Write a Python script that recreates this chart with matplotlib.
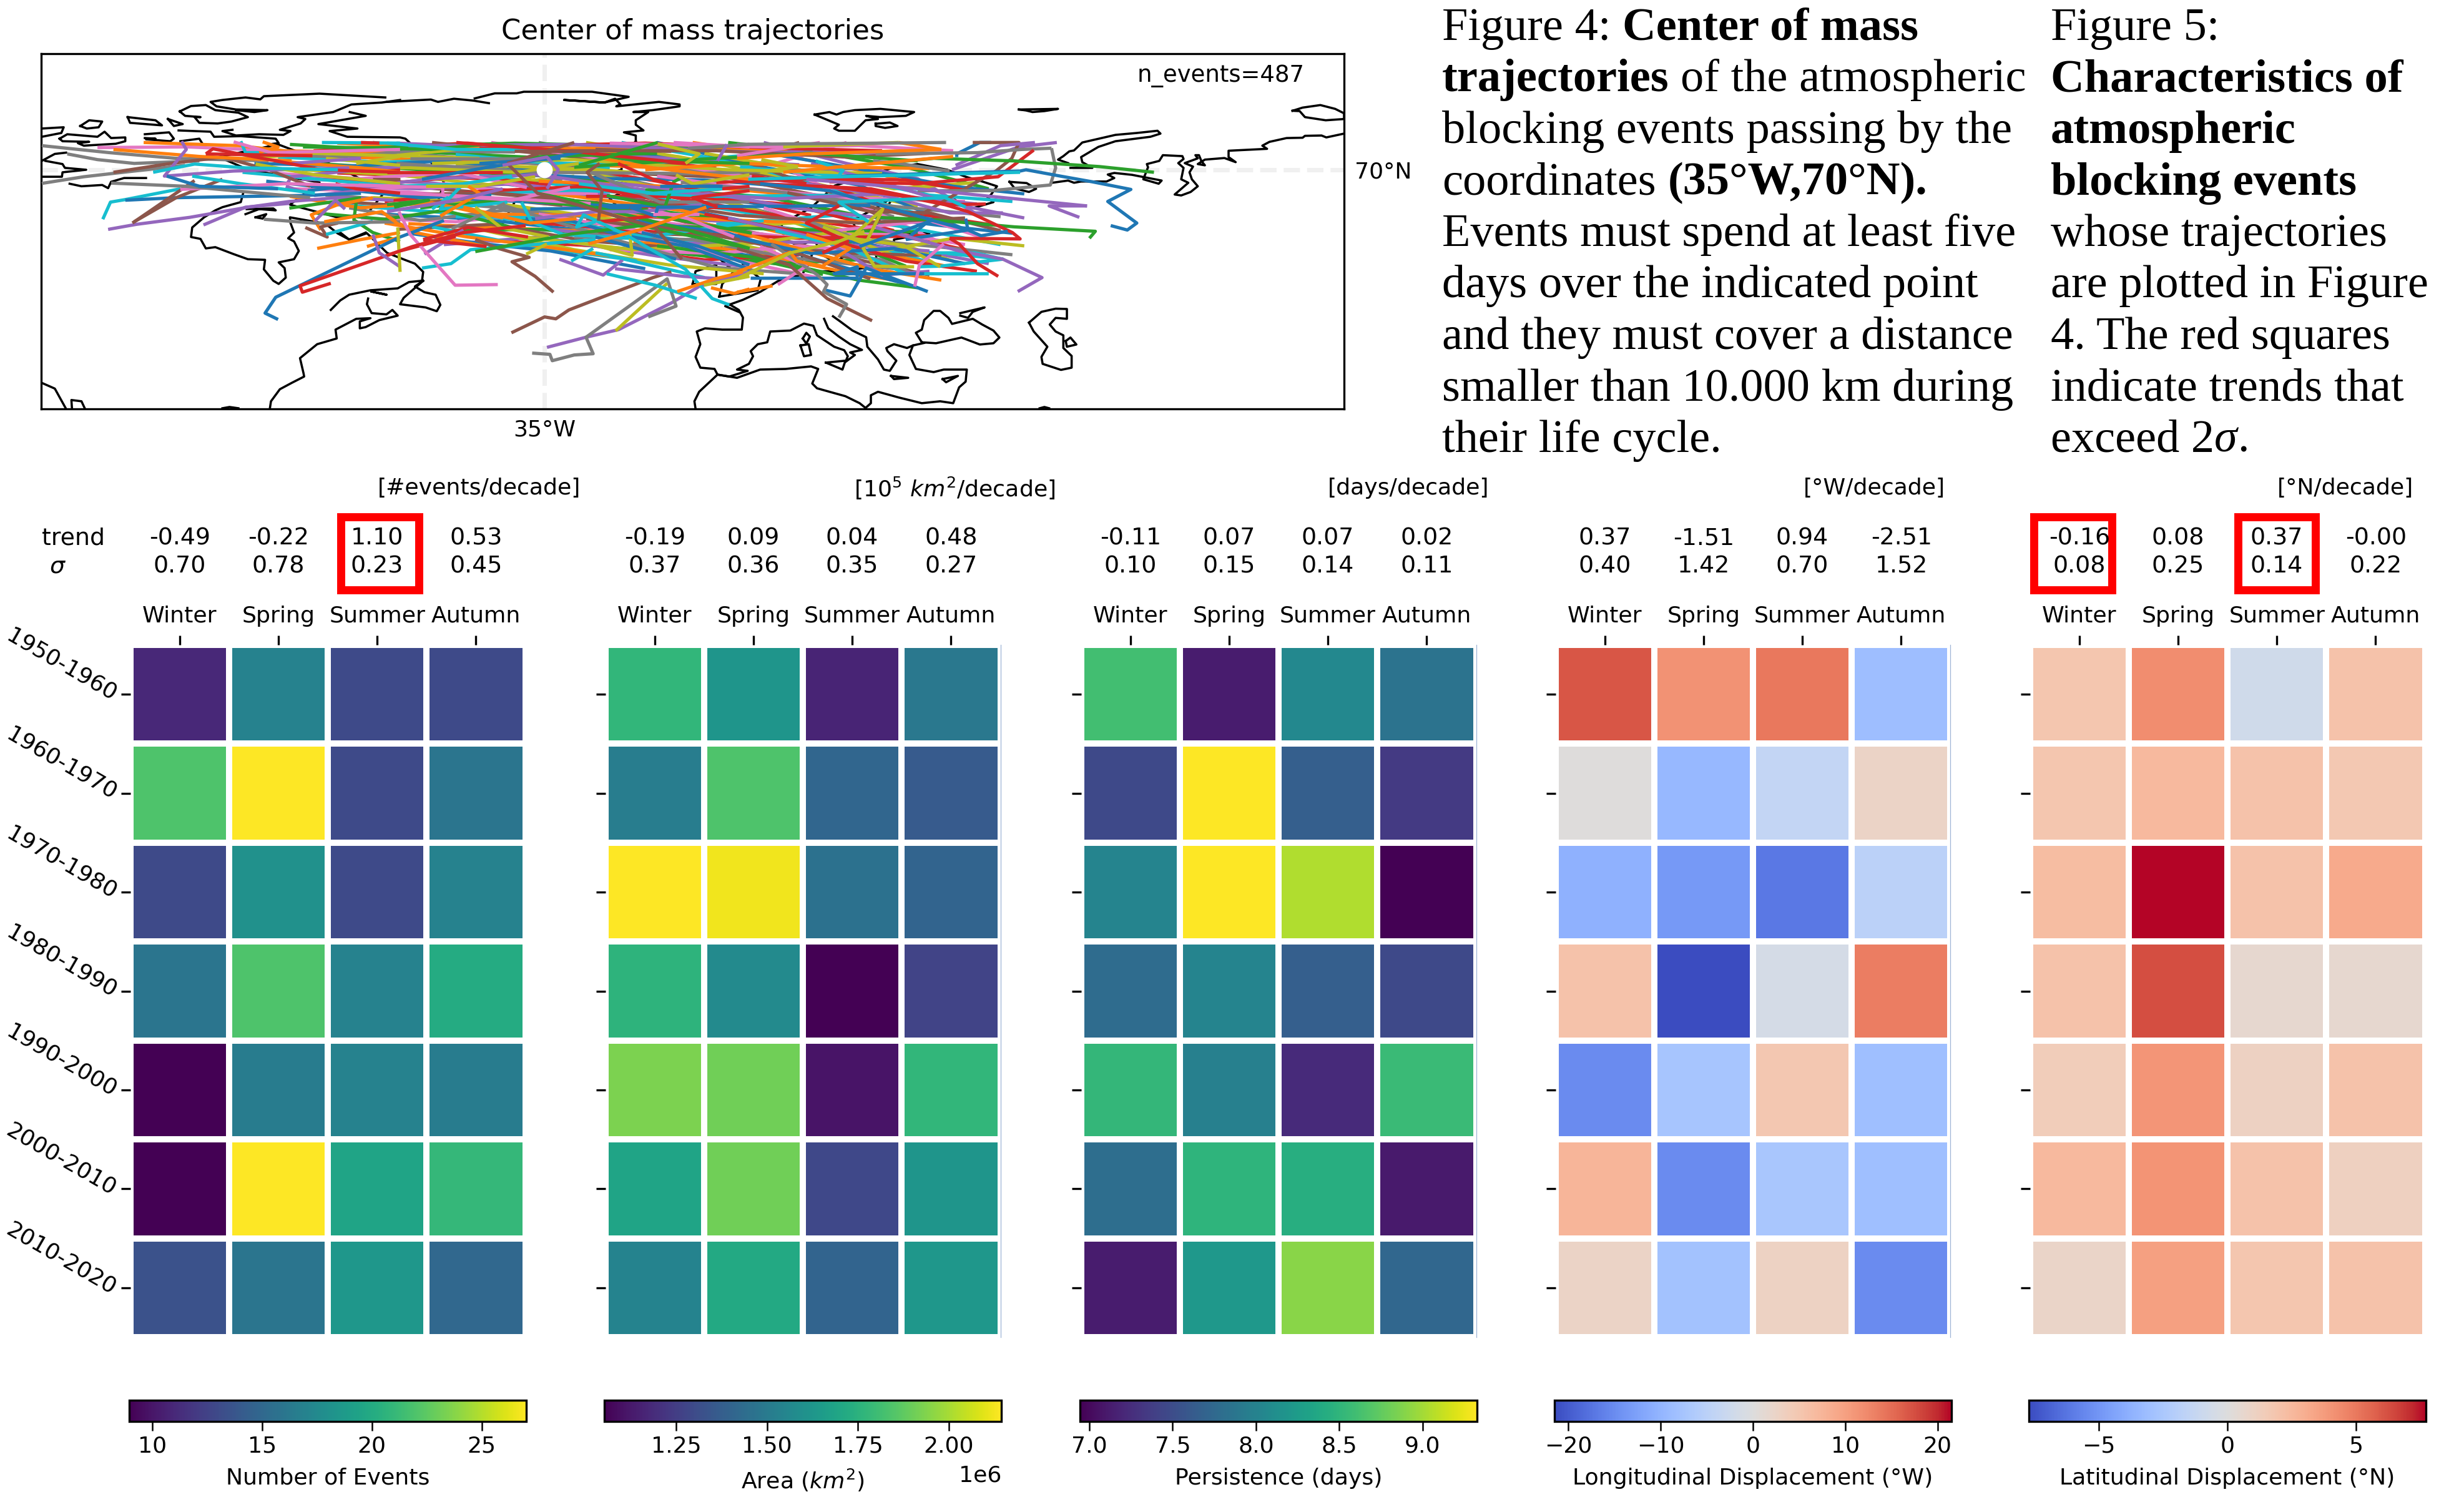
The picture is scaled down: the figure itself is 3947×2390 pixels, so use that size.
import numpy as np
import matplotlib
matplotlib.use('Agg')
import matplotlib.pyplot as plt
from matplotlib.cm import ScalarMappable
from matplotlib.colors import Normalize
from matplotlib.patches import Rectangle
from matplotlib.transforms import ScaledTranslation

W, H = 3947, 2390

decades = ['1950-1960', '1960-1970', '1970-1980', '1980-1990', '1990-2000', '2000-2010', '2010-2020']
seasons = ['Winter', 'Spring', 'Summer', 'Autumn']

events = [[11, 17, 13, 13], [22, 27, 13, 16], [13, 18, 13, 17], [16, 22, 17, 20],
          [9, 16.5, 17, 16.5], [9, 27, 19.5, 21], [13.5, 16, 18.5, 15]]
area = [[1.77, 1.62, 1.16, 1.49], [1.51, 1.84, 1.41, 1.36], [2.145, 2.12, 1.46, 1.40], [1.76, 1.57, 1.052, 1.27],
        [1.93, 1.91, 1.11, 1.77], [1.69, 1.91, 1.29, 1.62], [1.54, 1.71, 1.40, 1.63]]
persistence = [[8.61, 7.13, 8.06, 7.85], [7.47, 9.327, 7.66, 7.35], [8.02, 9.327, 9.04, 6.944], [7.78, 8.02, 7.66, 7.47],
               [8.52, 7.97, 7.23, 8.56], [7.80, 8.49, 8.44, 7.11], [7.13, 8.21, 8.90, 7.73]]
lon_disp = [[16.8, 11.5, 14, -8.6], [0.3, -9.5, -4, 2.6], [-10.5, -13.5, -17, -5], [5.6, -21.5, -1.5, 13.5],
            [-15, -7.5, 5, -8.5], [7.5, -15, -7.3, -8.5], [2.6, -8, 3, -15]]
lat_disp = [[1.85, 4.3, -0.77, 2.0], [1.85, 2.5, 2, 1.7], [2.3, 7.73, 2, 3.2], [2, 6.3, 0.6, 0.6],
            [1.4, 4, 1.1, 2], [2.5, 4.1, 2, 1.2], [0.9, 3.6, 1.85, 2]]

trends = [[-0.49, -0.22, 1.10, 0.53], [-0.19, 0.09, 0.04, 0.48], [-0.11, 0.07, 0.07, 0.02],
          [0.37, -1.51, 0.94, -2.51], [-0.16, 0.08, 0.37, -0.00]]
sigmas = [[0.70, 0.78, 0.23, 0.45], [0.37, 0.36, 0.35, 0.27], [0.10, 0.15, 0.14, 0.11],
          [0.40, 1.42, 0.70, 1.52], [0.08, 0.25, 0.14, 0.22]]
units = ['[#events/decade]', '[$10^5$ $km^2$/decade]', '[days/decade]', '[°W/decade]', '[°N/decade]']
cbar_labels = ['Number of Events', 'Area ($km^2$)', 'Persistence (days)',
               'Longitudinal Displacement (°W)', 'Latitudinal Displacement (°N)']

coast = [
    [(-61.9,81.4),(-73,82),(-82.4,81.6),(-83,81.1),(-85.5,81.4),(-89.4,81),(-91.4,80.7),(-90.4,80),(-87.1,79.5),(-81.8,79.4),(-84,79.1),(-87.1,79.4)],
    [(-59.4,81),(-62.5,80.6),(-67.6,80.3),(-70.7,79.1),(-76.7,78.3),(-75.4,78),(-76.2,77.3),(-79.7,76.3),(-77.9,76.1),(-79.1,75.5),(-83.2,75.6),(-87.1,75.4),(-89.4,76.1),(-87.7,76.3)],
    [(-67.9,79.1),(-65.2,78.5),(-73.2,77.2),(-66.6,76.5),(-71.3,76.1),(-68.3,75.2),(-59.4,75.1),(-58.5,74.9),(-54,71),(-52,68),(-53,65),(-48,61),(-43,60),(-40,65),(-30,68),(-22,70),(-22,72),(-19.6,74.5)],
    [(-96.6,79.2),(-94.7,80.05),(-92.2,80.2),(-90.6,79.4),(-86.7,79),(-85.1,78.3),(-87.9,77.6),(-90.2,77.3),(-93.3,77.4),(-94.1,78.3),(-93.1,78.3),(-95.7,78.5),(-96.6,79.2)],
    [(-113.4,76.9),(-111.9,77.8),(-109.7,77.6),(-110.3,76.7),(-112.3,76.5),(-113.4,76.9)],
    [(-105.4,78.3),(-100.7,77.8),(-99.6,77),(-105,77.4),(-105.4,78.3)],
    [(-98.6,78),(-96.1,77.2),(-97.6,76.9),(-98.6,78)],
    [(-96.8,76.2),(-91.4,76),(-90.8,75.2),(-86.3,75.3),(-80.4,74.9),(-79.9,74.2),(-81.6,74)],
    [(-119.9,76.5),(-116.2,76.7),(-116.6,75.8),(-119.9,75.2)],
    [(-116.9,74.9),(-115.6,75.6),(-110.5,75.2),(-109.3,76),(-108.2,75),(-105.8,75.1),(-105.8,74.5),(-107.4,74.1),(-112.8,73.8),(-113.8,74.2),(-111.9,74.4),(-116.4,74.5),(-116.9,74.9)],
    [(-102.5,75.6),(-98.4,75.9),(-97.6,74.9),(-98.2,74.5),(-102.3,74.8),(-100.7,74.9),(-102.5,75)],
    [(-96.5,74.5),(-93.3,74.9),(-92.7,74)],
    [(-119.9,71.4),(-117.7,72.5),(-115.8,72.7)],
    [(-119.3,71.4),(-116.4,70.9),(-116,70.3),(-112.4,70),(-116.4,69.6),(-116.5,68.9),(-119.9,68.9)],
    [(-115.2,67.8),(-113.2,67.4),(-109.7,67.6),(-108.7,67.1),(-108.2,68.1),(-106,68.7),(-102.3,68.7)],
    [(-85.9,66.3),(-86.3,64.9),(-89.4,64.1),(-90.6,63.6),(-92.5,62.5),(-94.5,60.9),(-94.7,59.4),(-93.1,59.1),(-92.2,57.6),(-90.6,57.8),(-87.5,56.7),(-85.1,55.9),(-82.2,55.8),(-82.4,54.3),(-80.8,52.5),(-79.9,52),(-78.7,53),(-78.9,54.5),(-79.9,55.4),(-77.3,55.9),(-76.5,57.2),(-77.3,58.7),(-78.3,59.2),(-77.3,60.1),(-77.9,61.6),(-78,62.5),(-72,61.5),(-70,60),(-68,59),(-65,60),(-61.6,56.9),(-58.6,55.8),(-56.9,55.2),(-55.5,53.9),(-55.7,52.5),(-57.9,52.3),(-59.8,51.3),(-64.4,51),(-68,50.3),(-69.5,49.4),(-71.1,47.9)],
    [(-85.3,63.8),(-80.8,63.9),(-80.4,63.6),(-83.2,63.8),(-85.5,63)],
    [(-83.8,62.5),(-82,63),(-82.6,62.3),(-83.8,62.5)],
    [(-64.8,49.7),(-65,48.8),(-64.2,47.4),(-61.7,47.2),(-60.7,47.9),(-59.8,47),(-62.9,46.3),(-65.2,45.2),(-66.2,45),(-66.2,46.1),(-64.4,46.6),(-66.8,46.5),(-70.3,44.8),(-70.1,43.4),(-73.4,42.5),(-76.3,40.3),(-75.7,37.9),(-75.6,37.4),(-77.7,36.4),(-79.7,35.4),(-81.2,33.5),(-81.4,32.3)],
    [(-64.2,50.8),(-61.7,50.3),(-64.2,50.8)],
    [(-119.9,36.4),(-117.7,35.5),(-115.8,32.3)],
    [(-114.8,32.3),(-114.9,33.7),(-113.2,33.5),(-112.6,32.3)],
    [(-89.4,32.4),(-88.2,32.6),(-86.7,32.4)],
    [(-61.6,80.7),(-54.2,81.07),(-53,80.7),(-50.3,81.2),(-47,80.9),(-44.4,80.5)],
    [(-46.8,81.25),(-43.4,82.05),(-39.7,82.05),(-38.5,82.3),(-27,82.3),(-20.8,81.5),(-24.9,80.6),(-31.7,81),(-24.9,80.6),(-23.1,81.2),(-22.2,80.3),(-22.9,80),(-15.7,80.7),(-12.2,80.3),(-12.2,80),(-16.7,79.4),(-20,79.1),(-17.5,79.1),(-19.6,77.8),(-19.6,77.1),(-18.3,76.2),(-21.6,75.9),(-19.6,75.4),(-19.6,74.5)],
    [(-55.5,52.5),(-56.9,51.6),(-55.3,50.7),(-53.4,50.3),(-52.6,48.7),(-53.2,47.7),(-55.1,48.3),(-59.4,48.8),(-58.8,49.8),(-55.5,52.5)],
    [(-3.8,48.8),(-2.2,47.9),(-1.5,46.7),(-1.7,44.8),(-5,44.8),(-7.9,45),(-9.3,44.5),(-8.7,42.5),(-9.5,40.5),(-8.7,38.8),(-6.3,38.6),(-5.8,37.7),(-3.8,37.4),(-0.7,38.3),(-2.5,38.5),(-0.5,39.4),(0.2,40.6),(-0.2,41.4),(1,42.5),(2.6,42.8),(3.1,44.5),(6.5,44.65),(8.8,45.75),(10.4,45.4),(11,43.9),(13.9,42.1),(15.6,41.55),(16.2,40.6),(15.8,39.7),(17.4,40.8),(16.6,41.2),(18.6,41.6),(16.6,42.5),(14.7,43.7),(12.9,45),(12.2,46.5)],
    [(-5.8,37.7),(-8.9,35),(-9.7,33.5),(-9.5,32.3)],
    [(-5.8,37.7),(-2.5,37.2),(1.4,38.5),(5.7,38.6),(10,39),(11.2,38.6),(10.2,36.3),(11,35.55),(15.8,34.3),(18.2,33.2),(19.2,32.45),(20.1,33.2),(20.1,34.45),(21.3,35),(24.8,34.1),(28.7,33.2),(31.8,33.5),(34,33.2),(35,35.7),(36.1,36.6),(36.3,38.5),(32.4,38.5),(30.7,38.1),(27.7,38.6),(26.6,40.8),(27.2,42.3),(29.1,42.7)],
    [(12.5,39.6),(15.8,39.9),(15.3,38.5),(12.5,39.6)],
    [(8.6,43.4),(9.2,44.3),(9.8,43.7),(9.2,42.6),(8.6,43.4)],
    [(8.2,42.3),(9.6,42.5),(10,40.8),(8.8,40.6),(8.2,42.3)],
    [(13.7,46.9),(14.9,46.1),(17,44.65),(19.3,43.6),(19.5,42.1),(21.3,40.1),(22.3,38.5),(23.3,38.3),(24.4,39.9),(22.9,41.4),(22.7,41.9),(24,42.5),(26.2,41.9),(27.2,42.3)],
    [(28.7,42.8),(31.1,42.65),(35.4,43.55),(38.5,42.45),(40.8,42.65),(41.8,43.55),(40.8,44.65),(38.9,45.6),(37.3,46.5),(33.8,45.7),(33.2,46.65),(31.8,47.75),(30.7,47.75),(29.1,46.3),(28.7,44.8),(27.7,44.3),(28.7,42.8)],
    [(35.2,47.4),(39.3,48.3),(37.3,47.6),(36.5,46.65),(35.2,47)],
    [(46.8,45.9),(48.9,47.6),(51.3,48.1),(53.2,48.05),(53.2,46.5),(51.3,46.65),(50.3,45.6),(51.3,44.5),(52.6,43.9),(52.6,41.9),(54,40.65),(54,38.8),(52.2,38.45),(49.1,39.4),(48.9,40.5),(49.9,42.1),(47.6,44.5),(46.8,45.9)],
    [(53,43),(53.8,43.55),(54.8,42.45),(53.2,42.1),(53,43)],
    [(23.5,37.5),(26.4,37.2),(24,37),(23.5,37.5)],
    [(32.2,37),(34.8,37.5),(32.8,36.5),(32.2,37)],
    [(48.6,32.4),(49.4,32.6),(50.2,32.4)],
    [(10.6,78.7),(13.1,79.1),(14.3,78.7),(15.4,79.1),(17.4,79.4),(21.7,79.6),(27.4,79.1),(26,78.5),(21.7,78.3),(19.3,78.5),(21.3,78),(19.2,77.8),(17.4,76.15),(14.7,76.15),(13.9,76.5),(14.7,77.1),(10.6,78.7)],
    [(20.9,77.25),(23.3,77.45),(24.6,76.9),(22.5,76.6),(20.9,76.9),(20.9,77.25)],
    [(45.1,79.5),(51.7,79.6),(49.4,79.25),(47.4,79.1),(46.3,79.35),(45.1,79.5)],
    [(53.4,71.05),(51.7,71.6),(52.6,72.15),(53.6,72.9),(54.4,73.05),(55.8,74.3),(61.4,75.5),(65,75.8),(68.5,76.15),(69,75.7),(67.3,75.2),(61.4,74.5),(58.5,73.6),(55.6,72),(55.8,71.2),(57.5,70.3),(53.8,70.3)],
    [(43.5,68.1),(46.4,67.9),(48,67),(46.8,66.5),(44.4,67.05),(43.5,68.1)],
    [(50.7,67.95),(53.4,68.3),(54.4,67.95),(55.6,68.15),(57.5,68.15),(59.9,68.15),(61.2,68.7),(60.1,69.25),(61.2,69.5),(64.2,69.2),(69.2,68.3),(68.7,67.8),(66.1,68.5),(66.9,70.4),(66.7,70.9),(68.8,71.4),(69.4,72.3),(72.7,72.15),(72.9,71.7),(72,71.05),(72.9,70.3),(72.5,68.5),(73.7,67.95),(71.4,66.1),(72.5,65.95),(74.1,66.5),(75.3,67.4),(74.3,68.5),(73.9,69.6),(74.5,70.5),(73.1,71.05),(75.3,71.8),(74.9,72.3),(75.5,72.3),(75.9,71.4),(76.5,70.7),(75.3,70.9),(76.5,71.6),(79.8,71.85),(81.7,71.2),(80.5,72),(80.5,73),(87,73.3),(86.2,73.8),(87.4,74.4),(90.3,75),(93,75.05),(93.4,75.35),(96.2,75.4),(97,75.1),(100,75.7)],
    [(91.3,79.3),(93,79.8),(96,80.2),(98.5,79.6),(100,78.9),(100,78),(96.9,77.8),(93.4,78.3),(92.5,79.25),(91.3,79.3)],
    [(-2,47.5),(-4.5,48.5),(-1.5,49.5),(1.5,50.8),(4.5,52.5),(8.5,53.5),(9.5,55),(10.5,57.5),(8.5,57),(8.5,55),(10,54),(14,54),(19,54.5),(21,55),(21,57),(24,57.5),(24,59),(30,60),(23,60),(21,61),(22,63),(24,65.8),(21,64),(17,62),(18,59.5),(16,56.5),(14,55.5),(12,56.5),(10.5,59),(8,58),(5.5,59),(5,61.5),(10,64),(14,67.5),(23.8,70.3),(28,70.9),(33,70),(36.1,68.9),(38.9,68.15),(41.4,67.4),(40.4,66.1),(39.8,65.6),(40.8,64.9),(37.3,63.95),(36.1,64.1),(33.8,65.6)],
    [(-5.5,50),(1,51),(1.5,52.8),(-1.5,55),(-2,57.5),(-5,58.5),(-5.5,56),(-3,54),(-5,52),(-5.5,50)],
    [(-10,52),(-6,52),(-6,55),(-9.5,54),(-10,52)],
    [(-24,65.5),(-22,66.4),(-15,66.4),(-13.5,65),(-18,63.5),(-22.5,64),(-24,65.5)],
    [(-80,74),(-70,70.5),(-62,66.5),(-65,63),(-70,62.5),(-78,64.5),(-73,68),(-85,70),(-90,72),(-80,74)],
    [(-69.5,60.1),(-68,59),(-65.2,60.1)],
]

# tracks inside the dense band, colours run through the default cycle as the original plot does
band_tracks = [
    [(-72,73.5),(-50,72.8),(-30,73),(-12,72)], [(-68,72),(-44,71.2),(-20,70.5),(2,69.5)],
    [(-74,71),(-52,69.8),(-30,68.8),(-6,66)], [(-70,69.5),(-46,68.6),(-24,67.4),(3,63)],
    [(-76,68.5),(-55,68),(-38,66.5),(-18,65.5)], [(-66,68),(-48,66.6),(-26,64.8),(-5,60.5)],
    [(-78,67),(-58,66.5),(-36,64.8),(-14,62.5)], [(-72,66),(-50,64.6),(-34,63.4),(-10,59.8)],
    [(-64,65.6),(-44,64.8),(-22,62),(4,57)], [(-70,64.5),(-54,63.4),(-32,61.4),(-8,58.5)],
    [(-62,63),(-46,62.2),(-28,60.4),(10,55)], [(-58,61.5),(-42,60.8),(-22,60.2),(-4,57)],
    [(-52,60.4),(-36,60.6),(-14,59),(12,53.5)], [(-74,73),(-48,74.2),(-28,72.6),(-6,70.2)],
    [(-60,74.2),(-40,73.4),(-18,72),(8,70.8)], [(-54,74.3),(-34,72.4),(-14,70.6),(14,68.2)],
    [(-44,74.3),(-26,71.8),(-6,69.6),(20,66.4)], [(-36,74.3),(-20,71.4),(2,67.8),(24,62.6)],
    [(-28,74.3),(-12,72),(6,68.8),(28,64.2)], [(-22,74.3),(-4,71.4),(12,67.4),(32,62)],
    [(-16,74.3),(2,70.4),(18,67.6),(36,60.6)], [(-10,74.3),(8,71.8),(22,69.2),(32,66.4)],
    [(-4,74.3),(12,72.6),(26,70.4),(40,67)], [(-64,74.3),(-40,71.8),(-16,68.2),(10,62.8)],
    [(2,74.3),(16,71),(28,68.6),(38,63)], [(8,74.3),(-2,71.6),(14,66.2),(30,58.8)],
    [(16,74.3),(4,71),(18,64.6),(34,57.6)], [(-56,72.4),(-32,70.6),(-8,65.8),(18,59.6)],
    [(-50,70.8),(-28,69.6),(-2,64.4),(24,56.6)], [(-46,69.2),(-22,66.4),(6,62.2),(30,55.4)],
    [(-42,67.8),(-18,65),(8,60.2),(28,56.8)], [(-38,66.8),(-12,63.6),(14,58.2),(34,54.6)],
    [(-34,65.6),(-8,62.6),(12,60),(26,54.8)], [(-30,64.4),(-4,64),(20,60.6),(38,57)],
    [(-26,63),(0,61.6),(22,58.4),(40,55.2)], [(-22,63.8),(2,59.8),(16,56.2),(30,53.4)],
    [(-18,62),(6,59.4),(24,60),(36,58.2)], [(-14,61),(8,57.6),(22,55.8),(28,53.2)],
    [(-10,60.6),(10,61.8),(26,58),(34,55.6)], [(-6,61.4),(14,62.8),(28,60.6),(42,58.2)],
    [(-2,65),(16,63),(32,61.2),(44,60)], [(-20,58.6),(-2,57.4),(16,53.8),(24,52.6)],
    [(-32,58.4),(-14,57),(4,55.2),(18,55.8)], [(-44,58.8),(-26,58),(-8,55.8),(8,56.6)],
    [(-52,58.2),(-36,59.4),(-16,56.4),(0,54.6)], [(-60,60.6),(-44,61.4),(-28,58.8),(-14,57.8)],
    [(-66,62.4),(-50,61.8),(-38,63),(-24,60.2)], [(-68,64),(-56,62),(-42,63.6),(-30,62.6)],
    [(-76,70),(-60,69.2),(-44,67.6),(-30,69)], [(-80,72),(-62,71.2),(-42,72),(-24,70.2)],
    [(-84,71),(-68,70.6),(-52,71.4),(-36,70)], [(-82,73),(-64,72.8),(-42,73.8),(-22,72.8)],
    [(-78,74),(-60,73),(-38,72),(-16,72.6)], [(-76,69),(-62,67.8),(-48,69),(-34,67.6)],
    [(-72,67.4),(-56,67),(-40,67.8),(-24,66)], [(-70,65),(-60,64.4),(-46,65.6),(-32,64.4)],
    [(-65,66.8),(-52,67.8),(-40,66.4),(-26,66.2)], [(-72,69.8),(-58,70.6),(-44,70.4),(-32,68.4)],
    [(-58,69),(-42,70.6),(-26,70),(-12,69)], [(-50,72.4),(-34,71),(-18,71),(-2,72.2)],
    [(-40,69.4),(-24,68.6),(-8,68.4),(8,67.2)], [(-36,68.2),(-20,67.6),(-4,67),(12,65.6)],
    [(-32,67),(-16,66.8),(2,65.8),(18,62.8)], [(-28,65.8),(-12,65.8),(6,64.6),(24,60.4)],
    [(-24,68),(-8,66.4),(10,63.6),(26,62)], [(-20,69.4),(-4,68.8),(14,65.4),(34,61.2)],
    [(-16,69),(0,67),(16,65.6),(36,65)], [(-12,68),(4,66.6),(20,64.6),(42,62.6)],
    [(-8,72.6),(8,70),(24,67),(38,68)], [(-2,70.4),(14,69.2),(30,66),(44,65)],
    [(4,72.4),(20,69.8),(34,67.4),(46,66.2)], [(-70,74.2),(-44,73),(-20,73.6),(6,73)],
    [(-66,73.4),(-40,74.2),(-14,73.6),(14,73.8)], [(-46,73.6),(-18,74.2),(4,73.4),(22,73)],
    [(-58,73.8),(-30,74),(0,72.8),(26,72.6)], [(-34,73),(-6,73),(16,72),(30,72.6)],
    [(-24,74.2),(2,73.6),(18,73.8),(34,73)], [(-60,71),(-36,69.6),(-10,69.4),(18,70.2)],
    [(-54,71),(-30,71.6),(-4,70),(22,69.4)], [(-52,66),(-30,66.8),(-6,65.8),(16,66)],
    [(-48,65.4),(-26,64.4),(0,64.2),(20,64.4)], [(-44,63),(-22,62.8),(4,61.8),(24,61.8)],
    [(-40,62),(-18,61.2),(6,60.6),(28,60.2)], [(-36,61.6),(-16,60.2),(8,59.2),(30,59.6)],
    [(-34,60.6),(-12,58.4),(10,58.6),(30,57.2)], [(-26,60.2),(-6,59.6),(12,57),(32,56.4)],
    [(-24,57.4),(-6,56.8),(8,58),(22,57)], [(-30,59.4),(-10,59),(6,56.2),(24,54.4)],
    [(-40,59.6),(-20,57.4),(0,58.4),(16,60.4)], [(-50,62.6),(-34,62.4),(-18,59.4),(2,62)],
    [(-20,62),(-4,60),(14,55),(26,52)], [(-12,62.5),(4,58.6),(20,54.4),(32,52.6)],
    [(-16,58),(2,56),(18,52.6),(28,51.4)], [(-8,63),(10,59.8),(26,55.6),(38,54)],
    [(-4,62.4),(12,59),(22,53.4),(30,54)], [(-28,62),(-10,60.4),(6,57.4),(20,52.8)],
    [(-36,63),(-20,60.6),(-2,55.6),(12,52.8)], [(-42,64.4),(-24,59.2),(-6,54.6),(8,53.6)],
    [(-46,60.6),(-30,57.4),(-14,55),(2,53.6)], [(-54,61),(-38,58),(-22,56),(-8,53)],
    [(-58,60),(-46,58.4),(-34,57.2),(-18,54.4)], [(-62,61.6),(-48,59.4),(-36,58),(-24,56.4)],
    [(-56,64),(-40,65.4),(-20,63.4),(0,60)], [(-62,65),(-46,66.6),(-28,67.4),(-10,64.2)],
    [(-68,67),(-54,68.6),(-36,69.2),(-18,66.8)], [(-74,67.8),(-60,66),(-44,66.4),(-30,65.2)],
    [(-80,69.4),(-66,68.6),(-50,69.6),(-38,67.2)], [(-84,72.6),(-70,72),(-56,73),(-40,72.8)],
    [(-88,71.6),(-74,72.6),(-60,72.2),(-46,71.8)], [(-86,69.6),(-72,68.4),(-60,67.4),(-48,67.8)],
    [(-82,68.2),(-70,67),(-56,65.6),(-44,66)], [(-78,65.8),(-66,64),(-54,64.8),(-42,62.4)],
    [(-74,63.2),(-62,62.2),(-52,63.6),(-40,60.8)], [(0,69),(14,67.2),(24,63.6),(40,61.4)],
    [(10,71),(22,68),(34,64.6),(46,62.4)], [(6,66.4),(20,63.4),(30,63.2),(42,60.4)],
    [(2,64),(14,60.4),(30,62),(40,59)], [(8,62.4),(18,59),(32,57.8),(44,56.6)],
    [(12,61),(22,57.2),(34,59.2),(46,58)], [(4,60.4),(16,57.8),(26,53.6),(40,53.6)],
    [(-2,59.2),(10,56.8),(24,57.6),(36,55.2)], [(-18,70),(-2,71),(16,70.4),(30,70.2)],
    [(-30,70.4),(-10,71.6),(10,72.6),(28,71.4)], [(-6,68),(10,68.6),(26,68.4),(36,66.8)],
    [(-14,66.6),(4,65.4),(22,66.2),(38,64.6)], [(-22,65.6),(-2,62.8),(18,61.6),(36,62.4)],
]

# (tab10 colour, points lon/lat) for tracks that can be told apart
tracks = [
    (6,[(-61.6,67.4),(-52.2,67.2),(-52.2,65.96),(-40.5,65.2),(-30.7,67.2)]),
    (6,[(-59.6,66.3),(-51.8,66),(-27.2,64.7)]),
    (9,[(-54,63.8),(-51.4,65.6),(-52.6,63.8),(-41.3,64.9)]),
    (9,[(-51.4,65.2),(-48.7,67.8),(-40.5,69)]),
    (8,[(-61.6,70.3),(-57.7,70.3),(-39.7,69.6),(-29.2,71)]),
    (8,[(-61.6,72.1),(-49.9,73.2)]),
    (8,[(-55,67.4),(-46,67.4),(-36.6,68.9)]),
    (2,[(-61.6,73.4),(-54.2,73.2),(-44,74.1),(-18.6,71.4),(-0.4,71)]),
    (9,[(-61.6,74.2),(-49.9,73.2),(-34.3,73.2)]),
    (3,[(-61.6,69.6),(-42.1,69.6)]),
    (3,[(-49.9,74.3),(-30.4,72.9),(-10.8,71)]),
    (0,[(-55.7,68.5),(-45.2,70.3),(-34.3,71.8),(-28.4,72.9)]),
    (7,[(-57.7,71.8),(-38.2,71.8)]),
    (7,[(-27.2,69.6),(-15.5,64.9),(-0.4,64.9)]),
    (7,[(-50.7,60.7),(-41.7,64.7)]),
    (0,[(-37.4,63.8),(-18.6,64.1)]),
    (0,[(-38.2,62.3),(-30.4,61.9),(-22.6,59.8),(-10.8,57.9),(-0.4,54.3)]),
    (9,[(-38.9,64.9),(-37.2,61.8),(-31.9,59.8),(-20.6,59.2)]),
    (2,[(-24.5,65.96),(-14.7,64.1),(-13.2,68.1),(-11.6,68.9)]),
    (2,[(-36.2,66.3),(-30.4,65.2),(-18.6,61.2),(-0.4,57.6)]),
    (2,[(-26.4,64.1),(-10.8,60.5),(-0.4,57.6)]),
    (1,[(-25.3,71.8),(-16.7,70.3),(-0.4,68.5)]),
    (1,[(-61.6,62.7),(-56.9,60.1),(-51.8,59.2),(-44.8,57.9)]),
    (1,[(-52.6,62.7),(-46,66.3),(-47.9,67.4)]),
    (1,[(-48.7,64.1),(-37.4,61.6),(-29.6,62.3)]),
    (3,[(-22.6,71),(-16.7,68.5),(-8.5,66.7),(-0.4,67.4)]),
    (3,[(-25.7,61.8),(-16.7,62.7),(-20.6,64.1)]),
    (3,[(-37.8,59.4),(-47.9,60.9),(-55.5,59)]),
    (6,[(-17.5,63.8),(-10.8,62.3),(-3,59.4)]),
    (4,[(-61.6,63.4),(-49.9,65.2),(-42.1,67)]),
    (4,[(-48.7,60.5),(-55.3,56.7)]),
    (4,[(-36.6,62.3),(-26.4,63.4),(-18.6,63.4),(-8.5,64.5)]),
    (5,[(-40.1,72.9),(-26.4,72.9)]),
    (5,[(-26.4,73.2),(-13.6,72.9)]),
    (8,[(-12.8,69.2),(-10,67.8),(-0.4,69.2)]),
    (0,[(-20.6,64.1),(-16.3,62.7),(-15.9,64.1),(-7.3,64.1)]),
    (0,[(-18.6,60.1),(-8.9,57.9),(-0.4,55)]),
    (0,[(-26.4,59.4),(-12.8,55.9)]),
    (9,[(-29.2,67.8),(-16.7,66.3),(-5,67)]),
    (0,[(-15.5,67.4),(-5,67.4)]),
    (6,[(-13.2,74.3),(-0.4,73.6)]),
    (6,[(-16.7,63),(-8.9,63)]),
    (7,[(-0.4,74),(-10.8,73.4)]),
    (0,[(-46,71),(-32.3,71.8)]),
    (2,[(-61.6,64.5),(-54.6,65.2),(-60.4,64.1)]),
    (8,[(-46.7,64.1),(-42.4,60.9),(-34.3,59.4)]),
    (8,[(-20.6,59.8),(-20.2,56.5),(-27.2,58.3)]),
    (3,[(-66,69.8),(-59.4,70)]),
    (2,[(-75.8,73.6),(-59.4,73.4)]),
    (9,[(-72.6,74.3),(-59.4,74.2)]),
    (3,[(-66,74.3),(-62.9,74.2)]),
    (4,[(-78.5,67.8),(-77.7,68.9),(-66,70),(-59.4,70.5)]),
    (4,[(-78.7,67.4),(-73.8,65.95),(-64.4,66.9)]),
    (8,[(-71.9,71.8),(-59.4,70.7)]),
    (8,[(-66.8,71),(-59.4,72.1)]),
    (0,[(-75,66.7),(-68.3,67.4)]),
    (3,[(-70.3,67.8),(-66.8,67),(-59.4,66.3)]),
    (1,[(-78,71.2),(-66,70.3),(-59.4,69.6)]),
    (5,[(-64,68.5),(-59.4,68.5)]),
    (6,[(-66.4,67.6),(-59.4,67.4)]),
    (4,[(-77.7,71),(-66,71.8)]),
    (2,[(-66.8,64.9),(-67.2,62.1),(-64,60.1),(-59.4,58.7)]),
    # tracks leaving the dense band
    (4,[(-108.7,60.6),(-103.9,61.4),(-94.9,62.5),(-85.1,64.1),(-78.1,65),(-69.9,65.6),(-60.5,65.2)]),
    (9,[(-109.6,62.2),(-108.3,64.9),(-105.8,65.3),(-96.5,67)]),
    (0,[(-105.8,65.2),(-97.2,65.6),(-75.8,65.95),(-66,66.3)]),
    (5,[(-104.6,61.6),(-94.1,68.3)]),
    (5,[(-104.3,61.8),(-97.2,65.6),(-89.4,68.5)]),
    (4,[(-92.6,61.3),(-85.5,64.1),(-78.1,64.7)]),
    (7,[(-119.9,73.8),(-108.5,72.7),(-97.2,71.8),(-81.6,71.4)]),
    (7,[(-115.6,72.5),(-110.5,71.6),(-104.3,71),(-93.3,71.4)]),
    (7,[(-119.9,67.85),(-112.8,68.9),(-104.3,69.8),(-95.7,70.7)]),
    (5,[(-107.8,69.6),(-98.8,70.9),(-89.4,72),(-81.6,70),(-74.6,67.4)]),
    (6,[(-110.5,73.5),(-95.3,73.6),(-77.7,72.9)]),
    (1,[(-102.7,74.3),(-86.7,73.8),(-74.2,72.5)]),
    (1,[(-107.8,73.2),(-93.3,72.1),(-77.7,71.4)]),
    (4,[(-96.3,74.5),(-95.5,73.2),(-99.2,69),(-87.5,69.8),(-68,70.3)]),
    (3,[(-92.2,72.5),(-91,73.3),(-72.6,70),(-59.4,69.6)]),
    (9,[(-86.3,74.5),(-85.5,72.7),(-81.6,72.7)]),
    (1,[(-82.6,74.4),(-80,73.6),(-83.2,72.7)]),
    (6,[(-87.5,74.4),(-81.2,72.7),(-59.4,73.2)]),
    (3,[(-74.2,72.2),(-92.2,72.5)]),
    (8,[(-83.8,70.9),(-73.8,69.2),(-59.4,67.8)]),
    (9,[(-101.1,69.6),(-94.1,70.9),(-85.5,70.3),(-69.9,70)]),
    (9,[(-94.5,69),(-86.3,67.8),(-73.8,66.3)]),
    (6,[(-96.5,66.9),(-78.9,67.8),(-59.4,67.4)]),
    (7,[(-108.2,67.9),(-95.7,67.4),(-74.6,65.6)]),
    (0,[(-98.8,69),(-93.3,67.4),(-80,67)]),
    (2,[(-78.1,63.95),(-66,65.6)]),
    (1,[(-72.8,60.5),(-74.4,62.9),(-69.9,64.5),(-64,65.6)]),
    (5,[(-75.4,60.9),(-71.7,59.4),(-72.8,61),(-69.9,61.6)]),
    (9,[(-71.9,59.8),(-64,61.9)]),
    (7,[(-82.4,62.2),(-73.8,61.6),(-59.4,61.8)]),
    (1,[(-73.4,57.6),(-66,59),(-59.4,60.1)]),
    (1,[(-72.2,61.8),(-62.5,63.4),(-59.4,61.2)]),
    (1,[(-65,57.9),(-59.4,59.4)]),
    (0,[(-80,46.4),(-82.2,47.4),(-80.4,49.9),(-59.4,59.4),(-52,62)]),
    (3,[(-71.1,52.1),(-75.9,50.7),(-76.3,51.7),(-59.4,57.2),(-50,59.5)]),
    (4,[(-64,59.8),(-62.9,56.9),(-59.4,54.7)]),
    (4,[(-73.8,61.9),(-70.3,65.2),(-68.7,63.8)]),
    (8,[(-59.8,60.9),(-59.4,53.9)]),
    (9,[(-55.7,54.5),(-50.8,55.2),(-47.5,57.4),(-26.4,59)]),
    (6,[(-42.9,51.9),(-50.1,51.8),(-57.7,59.8),(-59.6,63.4)]),
    (5,[(-33.5,50.7),(-36.6,53.2),(-40.5,55.5),(-37.6,56.2),(-42.8,57.6),(-46.7,59)]),
    (5,[(-40.6,44.3),(-35,46.8),(-33.1,46.5),(-30.9,47.9),(-16.7,53),(-13.6,53.9)]),
    (4,[(-34.6,42),(-28,43.6),(-22.5,44.8),(-13.6,49),(-8.9,51.6),(-0.4,53.9)]),
    (7,[(-37.1,41.1),(-34.1,40.9),(-33.7,39.9),(-30,40.8),(-26.8,41),(-28,43.6),(-14.3,52.8),(-12.8,48.5),(-17.5,46.8)]),
    (8,[(-23,44.6),(-14.3,52.1)]),
    (2,[(-46.7,57.1),(-30.3,59.9),(-18.6,61.2)]),
    (8,[(-38.1,56.7),(-34.6,58.3)]),
    (9,[(-30.5,55.6),(-26.8,57.6)]),
    (4,[(-32.5,55.9),(-25.1,53.4),(-21.8,55.8)]),
    (9,[(-26.4,56.9),(-19.4,55.6)]),
    (4,[(-23.1,54.4),(-11.6,53.2),(-5,52.8)]),
    (9,[(-9.3,49.7),(-16.3,51.8),(-24.5,53.6)]),
    (9,[(-3.8,48.7),(-6.7,49.7),(-11.2,54.3),(-21.4,59.8),(-28.4,62.9),(-29.6,61),(-26.4,61.8)]),
    (1,[(-12.6,50.8),(-6.2,52.8),(-1.5,53.9)]),
    (1,[(-6.9,51.4),(-3,50.5),(-0.4,51.2)]),
    (8,[(-8.1,51.8),(-0.4,53.2)]),
    (5,[(-41.3,71),(-36.2,66.3),(-16.3,60.9),(-11.8,55.9)]),
    (5,[(-30,74.3),(-41.3,71)]),
    (5,[(-25.7,71),(-27.8,69.6),(-25.3,66.7),(-25.9,61.95)]),
    (4,[(-42.1,70.7),(-34.6,72),(-32.7,70),(-34.6,67)]),
    (3,[(-55.5,58.96),(-44.8,57.9)]),
    (3,[(-61.6,56.5),(-57.3,57.9),(-48.7,60.1),(-38.2,61.2)]),
    (1,[(-7.7,64.1),(-18.3,60.7),(-27.6,58.3)]),
    (3,[(-5.8,64.1),(-10,65.6),(-0.4,66.7)]),
    (2,[(-29.2,70.7),(-15.9,74.3)]),
    (8,[(-15.9,74.1),(-8.9,72.5),(-11.2,71)]),
    (4,[(-4.2,74),(-5.8,71.4)]),
    (4,[(51.5,74.3),(45.1,73.6),(33.8,70)]),
    (0,[(40.4,74.3),(38.5,74.3),(34.6,72.5),(34.6,72)]),
    (5,[(37.3,74.3),(45.1,74.3),(43.9,71.8),(41.2,69.8),(35.4,66.7),(28.7,63)]),
    (4,[(47.8,74.3),(42,73.8),(34.4,70.7)]),
    (7,[(50.6,73.4),(45.5,73.2),(38.1,72.7),(20.9,72.5)]),
    (7,[(50.6,73.4),(51.3,70.3),(50.4,67.6),(40.4,66.7),(28,66.7)]),
    (3,[(47.6,73.1),(41.6,68.9),(28,67.8),(13.1,68.1)]),
    (2,[(25.2,71.3),(30.7,71.8),(44.3,71.4),(58.7,70.5),(67.9,69.6)]),
    (0,[(15,69),(45.3,69.8),(46.3,70),(52.1,69),(57.5,68.1),(64,66.9),(60.1,65),(65,61.6),(63.4,60.5),(60.6,61.2)]),
    (9,[(45.3,69.6),(15,68.9),(-0.6,68.5)]),
    (7,[(20.5,71.4),(24.8,71),(33.4,69.8)]),
    (4,[(56.6,64.3),(40.4,65.8),(28,67),(9.2,68.5)]),
    (4,[(56.6,64.3),(50.2,64.3),(55.3,62.5)]),
    (4,[(42.4,63.2),(33.4,63.2),(22.5,65.95),(9.2,67.8)]),
    (3,[(39.5,64.6),(33.4,64.5),(20.1,67),(1.4,67.8)]),
    (2,[(57,59.2),(58,60.3),(44.3,61),(30.7,62.1),(20.9,62.5)]),
    (3,[(33.4,59.2),(45.3,59.1),(44,60.1),(36.5,63.4),(32.6,64.5),(24.8,65.95),(13.1,67.4)]),
    (0,[(26,59),(30.1,62.1),(36.5,60.5),(36.1,62.3)]),
    (0,[(26,59),(36.5,60.5),(38.7,59.6),(43.2,60.3)]),
    (0,[(30.3,62.1),(13.1,66.7),(1.4,67.8)]),
    (9,[(42.4,55.9),(37.7,56.9),(29.9,56.9)]),
    (9,[(28,54.7),(31.8,54.8),(42.4,55.9),(33,56.8)]),
    (4,[(44.9,50.8),(49,53),(42.4,55.9),(35,57.2),(20.9,60.9)]),
    (3,[(41.6,53.2),(38.1,55.2),(35,58.3),(33.4,59.2)]),
    (8,[(31.8,54.7),(25.6,58.1),(16.6,59.2),(22.1,63.8),(18.8,57.6),(20.7,54.8),(27.4,54.7)]),
    (8,[(1.6,71.6),(7.6,70.5),(1.4,69.6)]),
    (0,[(29.7,50.8),(19.3,54.5),(16.6,50.1),(12.5,51)]),
    (0,[(29.1,53.6),(13.9,53.6),(17.8,54.7),(17.8,52.9),(8,52.9),(-0.2,52.9)]),
    (6,[(27.5,51.6),(28.3,55),(32.4,58.3)]),
    (6,[(4.4,51.9),(9.2,54.8),(1.4,57.9)]),
    (5,[(20.3,46.2),(12.7,49.7),(6.3,55),(-2.5,57.6)]),
    (7,[(14.7,46.7),(16,48.8),(12.1,50.8),(12.7,51.9),(11.1,53.4),(3.3,58.3)]),
    (1,[(-2.5,50.7),(3.5,51.7)]),
    (1,[(-2.5,53.9),(6.5,57),(7.6,55.6),(11.9,54.8),(16.6,57.6),(9.2,59.8)]),
    (3,[(14.7,64.3),(9.2,61.6),(16.2,58.7),(11.9,56.9)]),
    (8,[(-2.5,52.8),(6.5,56.9),(14.7,58.7),(19,60.3)]),
    (0,[(18.2,57.9),(30.7,62.1)]),
    (9,[(10.8,71.4),(15.4,69.9),(14.5,68.9)]),
    (6,[(11.5,74.3),(-2.5,72.2)]),
    (8,[(24.8,74.3),(5.3,73.6)]),
    (1,[(32,73.2),(24.8,74.3)]),
    (1,[(32,73.2),(9.2,72.5),(-2.5,71.8)]),
    (1,[(34,72.1),(20.9,71),(5.3,69.6)]),
    (7,[(32.8,74.3),(-2.5,74)]),
    (9,[(36.1,64.1),(32.6,65.6),(14.7,64.9),(19.7,61.8)]),
]

track_colors = ['C0', 'C1', 'C2', 'C3', 'C4', 'C5', 'C6', 'C7', 'C8', 'C9']


def fx(x):
    return x / W


def fy(y):
    return 1 - y / H


def add_px_axes(x0, y0, x1, y1):
    return fig.add_axes([fx(x0), fy(y1), (x1 - x0) / W, (y1 - y0) / H])


plt.rcParams['font.size'] = 8.7
fig = plt.figure(figsize=(W / 300, H / 300), dpi=300)

# map
ax = add_px_axes(66, 86, 2153, 655)
ax.set_xlim(-120, 100)
ax.set_ylim(32.3, 88.3)
ax.axvline(-35, color='#f0f0f0', lw=1.7, ls='--', zorder=1)
ax.axhline(70, color='#f0f0f0', lw=1.7, ls='--', zorder=1)
for part in coast:
    xy = np.array(part)
    ax.plot(xy[:, 0], xy[:, 1], color='k', lw=0.85, zorder=2)
for n, pts in enumerate(band_tracks):
    xy = np.array(pts)
    ax.plot(xy[:, 0], xy[:, 1], color=track_colors[n % 10], lw=1.25, zorder=3, solid_capstyle='butt')
for c, pts in tracks:
    xy = np.array(pts)
    ax.plot(xy[:, 0], xy[:, 1], color=track_colors[c], lw=1.25, zorder=3, solid_capstyle='butt')
ax.plot(-35, 70, 'o', color='white', ms=6.2, mew=0, zorder=5)
ax.set_xticks([-35])
ax.set_xticklabels(['35°W'])
ax.yaxis.tick_right()
ax.set_yticks([70])
ax.set_yticklabels(['70°N'])
ax.tick_params(length=0, pad=4)
ax.set_title('Center of mass trajectories', fontsize=10.8, pad=5.4)
fig.text(fx(2090), fy(121), 'n_events=487', ha='right', va='center', fontsize=8.9)

# panels
lefts = [207, 968, 1730, 2490, 3250]
data = [events, [[v * 1e6 for v in r] for r in area], persistence, lon_disp, lat_disp]
cmaps = ['viridis', 'viridis', 'viridis', 'coolwarm', 'coolwarm']
limits = [(8.96, 27.03), (1.052e6, 2.145e6), (6.944, 9.327), (-21.5, 21.5), (-7.73, 7.73)]
cb_ticks = [[10, 15, 20, 25], [1.25e6, 1.5e6, 1.75e6, 2e6], [7, 7.5, 8, 8.5, 9],
            [-20, -10, 0, 10, 20], [-5, 0, 5]]
unit_x = [768, 1529, 2256, 3002, 3757]
cols = [81, 239, 397, 556]

for i, L in enumerate(lefts):
    ax = add_px_axes(L + 1.5, 1033, L + 634.5, 2142)
    norm = Normalize(*limits[i])
    ax.pcolormesh(np.array(data[i]), cmap=cmaps[i], norm=norm, edgecolors='white', linewidth=2.4)
    ax.invert_yaxis()
    ax.xaxis.tick_top()
    ax.set_xticks(np.arange(4) + 0.5)
    ax.set_xticklabels(seasons)
    ax.set_yticks(np.arange(7) + 0.5)
    if i == 0:
        ax.set_yticklabels(decades, rotation=-30, ha='right', va='bottom')
        shift = ScaledTranslation(13 / 300, -17 / 300, fig.dpi_scale_trans)
        for lab in ax.get_yticklabels():
            lab.set_transform(lab.get_transform() + shift)
    else:
        ax.set_yticklabels([])
    for s in ax.spines.values():
        s.set_visible(False)
    if i in (1, 2, 3):
        ax.spines['right'].set_visible(True)
        ax.spines['right'].set_linewidth(0.3)
        ax.spines['right'].set_color('#9db4d6')

    cax = add_px_axes(L, 2243, L + 636, 2277)
    cb = fig.colorbar(ScalarMappable(norm=norm, cmap=cmaps[i]), cax=cax, orientation='horizontal', ticks=cb_ticks[i])
    cb.set_label(cbar_labels[i])
    cax.tick_params(width=0.6, pad=2)

    fig.text(fx(unit_x[i]), fy(782), units[i], ha='center', va='center')
    for j, cx in enumerate(cols):
        fig.text(fx(L + cx), fy(862), f'{trends[i][j]:.2f}', ha='center', va='center', fontsize=9.1)
        fig.text(fx(L + cx), fy(907), f'{sigmas[i][j]:.2f}', ha='center', va='center', fontsize=9.1)

fig.text(fx(118), fy(862), 'trend', ha='center', va='center', fontsize=9.1)
fig.text(fx(92), fy(907), r'$\sigma$', ha='center', va='center', fontsize=9.1)

# red squares
for x0, x1 in [(546, 671), (3258, 3383), (3585, 3709)]:
    fig.add_artist(Rectangle((fx(x0), fy(945)), (x1 - x0) / W, 117 / H, transform=fig.transFigure,
                             fill=False, ec='red', lw=3.1, joinstyle='miter'))

# captions
caption_left = [
    [('Figure 4:', 'n'), (' Center of mass', 'b')],
    [('trajectories', 'b'), (' of the atmospheric', 'n')],
    [('blocking events passing by the', 'n')],
    [('coordinates', 'n'), (' (35°W,70°N).', 'b')],
    [('Events must spend at least five', 'n')],
    [('days over the indicated point', 'n')],
    [('and they must cover a distance', 'n')],
    [('smaller than 10.000 km during', 'n')],
    [('their life cycle.', 'n')],
]
caption_right = [
    [('Figure 5:', 'n')],
    [('Characteristics of', 'b')],
    [('atmospheric', 'b')],
    [('blocking events', 'b')],
    [('whose trajectories', 'n')],
    [('are plotted in Figure', 'n')],
    [('4. The red squares', 'n')],
    [('indicate trends that', 'n')],
    [('exceed 2', 'n'), ('σ', 'i'), ('.', 'n')],
]
CAP_SIZE = 17.85
renderer = fig.canvas.get_renderer()
for x_start, caption in [(2310, caption_left), (3285, caption_right)]:
    for k, line in enumerate(caption):
        x = x_start
        y = 64 + 82.5 * k
        for txt, style in line:
            if txt.startswith(' '):
                x += 0.25 * CAP_SIZE * 300 / 72
                txt = txt[1:]
            t = fig.text(fx(x), fy(y), txt, ha='left', va='baseline', fontsize=CAP_SIZE,
                         family='Liberation Serif',
                         fontweight='bold' if style == 'b' else 'normal',
                         fontstyle='italic' if style == 'i' else 'normal')
            x += t.get_window_extent(renderer).width

fig.savefig('out.png', dpi=300)
